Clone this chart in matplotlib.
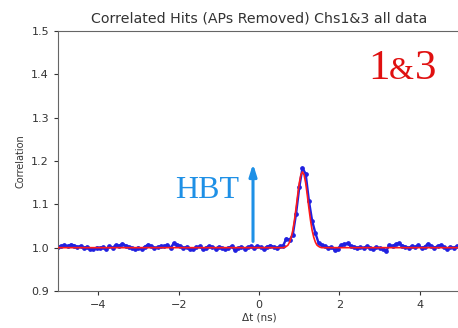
import numpy as np
import matplotlib
matplotlib.use('Agg')
import matplotlib.pyplot as plt

# time bins (ns), 0.08 ns wide
BIN_W = 0.08
dt = np.round(np.arange(-5.0, 5.0 + 1e-9, BIN_W), 3)

corr = [
  1.002, 1.004, 1.006, 1.003, 1.007, 1.005, 1.001, 1.004, 0.999, 1.002,
  0.998, 0.997, 1.000, 0.999, 1.001, 0.997, 1.003, 1.000, 1.006, 1.004,
  1.009, 1.005, 1.002, 0.999, 0.998, 1.000, 0.997, 1.002, 1.007, 1.003,
  0.999, 1.001, 1.004, 1.003, 1.006, 1.000, 1.010, 1.007, 1.004, 0.999,
  1.002, 0.998, 0.996, 1.001, 1.003, 0.997, 1.000, 1.004, 1.001, 0.998,
  1.002, 0.999, 0.996, 1.000, 1.003, 0.994, 0.999, 1.002, 0.998, 1.001,
  1.003, 0.999, 1.004, 1.001, 0.998, 1.002, 1.005, 1.002, 0.999, 1.003,
  1.005, 1.021, 1.018, 1.030, 1.078, 1.139, 1.184, 1.170, 1.108, 1.062,
  1.034, 1.011, 1.006, 1.003, 0.999, 1.001, 0.995, 0.998, 1.006, 1.008,
  1.010, 1.004, 1.002, 1.000, 1.001, 0.999, 1.003, 1.000, 0.998, 1.001,
  0.999, 0.997, 0.992, 1.006, 1.004, 1.008, 1.010, 1.005, 1.002, 1.000,
  1.003, 1.001, 1.006, 0.999, 1.002, 1.009, 1.004, 1.000, 1.003, 1.006,
  1.001, 0.998, 1.002, 1.000, 1.003, 0.999,
]

# fitted curve
fit_x = [-5.0, 0.56, 0.60, 0.64, 0.68, 0.72, 0.76, 0.80, 0.84, 0.88, 0.92, 0.96,
         1.00, 1.04, 1.08, 1.12, 1.16, 1.20, 1.24, 1.28, 1.32, 1.36, 1.40,
         1.44, 1.48, 1.52, 1.56, 1.60, 5.0]
fit_y = [1.000, 1.000, 1.000, 1.001, 1.003, 1.006, 1.013, 1.024, 1.040, 1.063,
         1.091, 1.121, 1.149, 1.168, 1.175, 1.168, 1.149, 1.121, 1.091, 1.063,
         1.040, 1.024, 1.013, 1.006, 1.003, 1.001, 1.000, 1.000, 1.000]

y_ticks = [0.9, 1.0, 1.1, 1.2, 1.3, 1.4, 1.5]
x_ticks = [-4, -2, 0, 2, 4]

grey = '#333333'

fig = plt.figure(figsize=(4.58, 3.28), dpi=100)
ax = fig.add_axes([0.1266, 0.1128, 0.878, 0.7927])

ax.plot(dt, corr, color='#2020e0', marker='o', markersize=2.4, linewidth=1.7, zorder=2)
ax.plot(fit_x, fit_y, color='#ff1a1a', linewidth=1.2, zorder=3)

ax.set_xlim(-5, 5)
ax.set_ylim(0.9, 1.5)
ax.set_xticks(x_ticks)
ax.set_xticklabels(['\u22124', '\u22122', '0', '2', '4'])
ax.set_yticks(y_ticks)
ax.set_yticklabels(['%.1f' % v for v in y_ticks])
ax.tick_params(labelsize=8, colors=grey, length=3)
for s in ax.spines.values():
  s.set_color('#666666')

ax.set_title('Correlated Hits (APs Removed) Chs1&3 all data', fontsize=10.2, color=grey, pad=6)
ax.set_xlabel('\u0394t (ns)', fontsize=7.5, color=grey, labelpad=2)
ax.set_ylabel('Correlation', fontsize=7, color=grey, labelpad=4)

# HBT annotation
ax.annotate('', xy=(-0.15, 1.200), xytext=(-0.15, 1.008),
            arrowprops=dict(arrowstyle='-|>,head_length=0.7,head_width=0.22', color='#1e90e6', lw=2.2))
ax.text(-0.5, 1.115, 'HBT', color='#1e90e6', fontsize=23, family='Liberation Serif',
        ha='right', va='baseline')

# channel label, smaller ampersand
ax.text(2.72, 1.39, '1', color='#e01010', fontsize=31, family='Liberation Serif', va='baseline')
ax.text(3.22, 1.39, '&', color='#e01010', fontsize=23, family='Liberation Serif', va='baseline')
ax.text(3.87, 1.39, '3', color='#e01010', fontsize=31, family='Liberation Serif', va='baseline')

fig.savefig('out.png', dpi=100)
